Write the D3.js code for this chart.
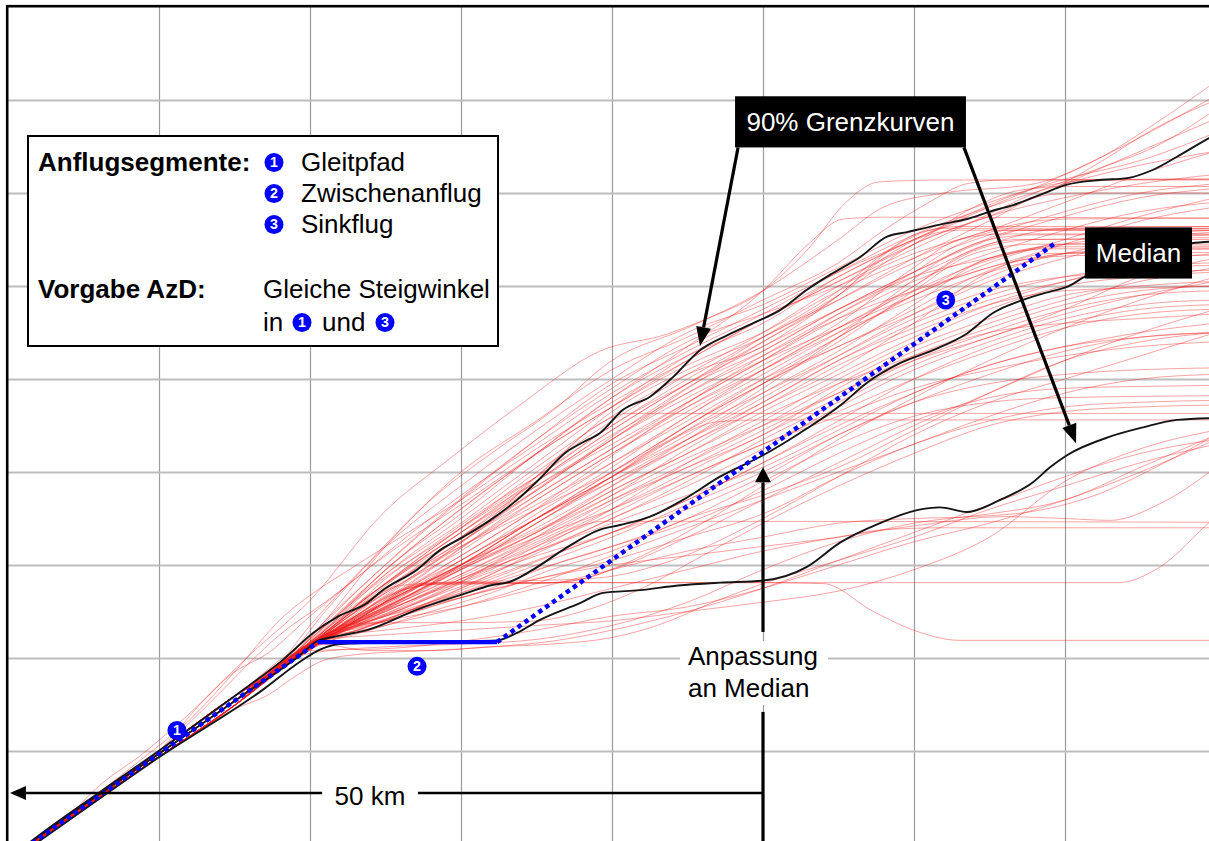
<!DOCTYPE html>
<html><head><meta charset="utf-8">
<script src="https://cdn.jsdelivr.net/npm/d3@7"></script>
<style>
html,body{margin:0;padding:0;background:#fff;overflow:hidden;}
svg{display:block;font-family:"Liberation Sans",Arial,Helvetica,sans-serif;}
</style></head><body>
<svg id="chart" width="1209" height="841"></svg>
<script>
// ---------- data (distance in km, altitude in grid units) ----------
const xGridKm = [10,20,30,40,50,60,70];
const yGridAlt = [1,2,3,4,5,6,7,8];

const upperBound = [[0,-0.17],[1.46,0.02],[6.09,0.56],[10.07,1.01],[12.72,1.32],[15.76,1.68],[18.21,1.98],[20.2,2.27],[21.79,2.44],[23.77,2.59],[24.83,2.73],[27.09,2.95],[28.61,3.16],[30.13,3.3],[31.92,3.48],[33.71,3.7],[35.23,3.93],[37.02,4.22],[38.08,4.32],[39.21,4.42],[40.73,4.67],[42.52,4.81],[44.04,5.02],[45.83,5.31],[47.62,5.47],[49.34,5.6],[51.13,5.74],[52.91,5.96],[54.64,6.14],[56.42,6.31],[58.21,6.53],[59.54,6.58],[61.72,6.66],[63.51,6.72],[65.03,6.8],[66.56,6.87],[68.34,6.98],[70.13,7.09],[72.32,7.14],[74.11,7.16],[75.83,7.25],[77.42,7.39],[79.54,7.59],[80,7.63]];

const median = [[0,-0.17],[1.46,0.01],[10.07,0.98],[15.76,1.62],[19.34,2.03],[20.46,2.18],[21.99,2.24],[23.77,2.3],[27.09,2.52],[30.4,2.7],[31.92,2.78],[33.25,2.82],[34.77,2.95],[37.02,3.19],[39.21,3.38],[40.53,3.43],[42.52,3.52],[44.7,3.7],[47.15,3.95],[50,4.18],[52.45,4.42],[55.3,4.74],[56.89,4.96],[59.07,5.17],[61.26,5.31],[63.51,5.49],[65.23,5.71],[67.22,5.85],[69.01,5.94],[70.13,5.99],[71.32,6.1],[73.64,6.23],[76.29,6.37],[78.41,6.46],[80,6.48]];

const lowerBound = [[0,-0.2],[1.79,0.0],[10.07,0.94],[16.89,1.66],[19.34,1.96],[20.66,2.09],[21.99,2.15],[25.96,2.17],[32.38,2.19],[33.71,2.27],[35.23,2.41],[37.88,2.59],[39.4,2.7],[41.85,2.73],[44.37,2.78],[47.15,2.81],[49.93,2.83],[52.91,2.98],[55.1,3.24],[57.75,3.45],[60.2,3.59],[61.72,3.62],[63.51,3.57],[65.7,3.7],[67.88,3.89],[69.01,4.05],[70.13,4.18],[72.98,4.38],[75.17,4.48],[77.42,4.56],[80,4.58]];

const glidePath = [[1.6,0.01],[20.53,2.17]];
const intermediate = [[20.53,2.17],[32.38,2.17]];
const descent = [[32.38,2.17],[69.34,6.46]];
const segmentMarkers = [{n:"1",km:11.19,alt:1.22},{n:"2",km:27.09,alt:1.91},{n:"3",km:62.1,alt:5.85}];

const tracks = [
 [[0,-0.17],[8,0.74],[10,1.0],[12.7,1.5],[16,2.03],[20,2.62],[24.8,3.55],[29.3,4.15],[33.9,4.72],[39.2,5.3],[43.6,5.48],[46,5.63],[50,5.95],[53,6.4],[55.5,6.9],[57.7,7.12],[62,7.14],[80,7.14]],
 [[0,-0.17],[10,0.97],[15,1.54],[18.5,1.95],[21,2.4],[25,3.2],[30,4.0],[35,4.55],[40,5.1],[45,5.45],[50,5.85],[55,6.25],[58,6.6],[61,6.9],[63.5,7.1],[66,7.14],[80,7.15]],
 [[0,-0.18],[10,0.94],[15,1.49],[18,1.89],[21,2.4],[25,3.0],[30,3.7],[35,4.35],[40,4.95],[45,5.35],[50,5.75],[55,6.15],[60,6.5],[65,6.85],[70,7.2],[75,7.6],[80,8.05]],
 [[0,-0.16],[10,1.0],[15,1.59],[18.5,1.94],[21,2.3],[25,2.95],[30,3.55],[35,4.2],[40,4.8],[45,5.25],[50,5.6],[55,6.1],[60,6.5],[65,6.8],[68,6.95],[72,7.3],[76,7.7],[80,8.0]],
 [[0,-0.17],[10,0.97],[15,1.54],[19,2.0],[21,2.25],[25,2.85],[30,3.4],[35,4.0],[40,4.55],[45,5.05],[50,5.5],[55,6.0],[60,6.4],[64,6.7],[68,7.0],[72,7.25],[76,7.5],[80,7.9]],
 [[0,-0.18],[10,0.94],[15,1.49],[17,1.77],[21,2.3],[25,2.8],[30,3.35],[35,3.95],[40,4.65],[45,5.1],[50,5.45],[55,5.9],[60,6.45],[65,6.75],[70,7.1],[75,7.45],[80,7.8]],
 [[0,-0.17],[10,0.97],[15,1.54],[18,1.9],[21,2.5],[25,3.2],[30,3.85],[35,4.45],[40,5.0],[45,5.5],[50,5.8],[55,6.2],[60,6.6],[65,6.9],[70,7.15],[75,7.35],[80,7.65]],
 [[0,-0.16],[10,1.0],[15,1.59],[17.5,1.85],[20,2.35],[24,3.05],[28,3.7],[32,4.2],[36,4.65],[40,5.2],[45,5.55],[50,5.95],[55,6.5],[58,6.85],[62,7.0],[68,7.1],[72,7.35],[76,7.75],[80,8.2]],
 [[0,-0.17],[10,0.97],[15,1.54],[18,1.88],[21,2.3],[25,2.9],[30,3.5],[35,4.1],[40,4.7],[45,5.25],[50,5.65],[55,6.05],[60,6.45],[64,6.85],[67,7.03],[70,7.07],[80,7.07]],
 [[0,-0.18],[10,0.94],[15,1.49],[19,2.0],[22,2.4],[26,2.9],[30,3.35],[35,3.9],[40,4.45],[45,4.95],[50,5.4],[55,5.85],[60,6.3],[65,6.7],[68.5,6.97],[71,7.0],[80,7.0]],
 [[0,-0.17],[10,0.97],[15,1.54],[18,1.88],[20.5,2.25],[25,2.95],[30,3.6],[35,4.2],[40,4.8],[45,5.35],[50,5.95],[53,6.45],[55.3,6.72],[58,6.74],[80,6.73]],
 [[0,-0.16],[10,1.0],[15,1.59],[18,1.89],[20.5,2.3],[23,2.7],[27,3.3],[31,3.85],[35,4.35],[40,4.9],[45,5.4],[50,5.7],[55,6.0],[60,6.35],[65,6.6],[70,6.9],[75,7.2],[80,7.45]],
 [[0,-0.17],[10,0.97],[15,1.54],[18,1.88],[21,2.28],[25,2.75],[30,3.3],[35,3.85],[40,4.35],[45,4.9],[50,5.4],[55,5.9],[58,6.3],[61,6.55],[63,6.6],[80,6.6]],
 [[0,-0.18],[10,0.94],[15,1.49],[19,2.0],[22,2.35],[25,2.7],[30,3.15],[35,3.7],[40,4.2],[45,4.7],[50,5.15],[55,5.6],[60,6.2],[63,6.5],[66,6.56],[80,6.56]],
 [[0,-0.17],[10,0.97],[15,1.54],[20,2.1],[23,2.4],[27,2.8],[30,3.05],[35,3.55],[40,4.05],[45,4.6],[50,5.05],[55,5.5],[60,6.0],[64,6.4],[67,6.5],[80,6.5]],
 [[0,-0.16],[10,1.0],[15,1.59],[19.5,2.05],[22,2.32],[25,2.6],[30,3.0],[35,3.45],[40,3.95],[45,4.5],[50,4.95],[55,5.4],[60,5.95],[64,6.35],[68,6.45],[80,6.45]],
 [[0,-0.17],[10,0.97],[15,1.54],[20,2.12],[23,2.35],[26,2.6],[30,2.95],[35,3.35],[40,3.85],[45,4.35],[50,4.85],[55,5.3],[60,5.8],[65,6.3],[69,6.4],[80,6.4]],
 [[0,-0.18],[10,0.94],[15,1.49],[20.5,2.18],[24,2.4],[28,2.65],[32,3.0],[36,3.4],[40,3.75],[45,4.25],[50,4.7],[55,5.1],[60,5.6],[65,6.15],[69,6.35],[80,6.36]],
 [[0,-0.17],[10,0.97],[15,1.54],[17,1.77],[21,2.35],[25,2.9],[30,3.45],[35,4.05],[40,4.6],[45,5.05],[50,5.35],[55,5.9],[59,6.45],[62,6.62],[80,6.62]],
 [[0,-0.16],[10,1.0],[15,1.59],[19,2.0],[22,2.38],[26,2.8],[30,3.2],[35,3.65],[40,4.1],[45,4.55],[50,5.0],[55,5.35],[60,5.75],[64,6.1],[68,6.3],[72,6.33],[80,6.33]],
 [[0,-0.17],[10,0.97],[15,1.54],[20,2.1],[24,2.45],[28,2.8],[32,3.15],[36,3.55],[40,3.95],[45,4.4],[50,4.9],[55,5.45],[59,5.95],[62,6.3],[65,6.5],[68,6.55],[80,6.55]],
 [[0,-0.18],[10,0.94],[15,1.49],[18.5,1.95],[22,2.4],[26,2.85],[30,3.25],[34,3.7],[38,4.15],[42,4.6],[46,5.0],[50,5.3],[55,5.75],[60,6.15],[64,6.45],[67,6.6],[80,6.62]],
 [[0,-0.17],[10,0.97],[15,1.54],[20,2.12],[24,2.55],[28,3.0],[32,3.5],[36,4.1],[39,4.5],[41,4.63],[45,4.63],[80,4.63]],
 [[0,-0.16],[10,1.0],[15,1.59],[20.5,2.2],[25,2.6],[30,3.0],[35,3.5],[40,3.95],[44,4.35],[47,4.54],[50,4.56],[80,4.56]],
 [[0,-0.17],[10,0.97],[15,1.54],[20.5,2.2],[24,2.45],[28,2.7],[32,2.95],[35,3.2],[37.5,3.4],[39.5,3.47],[45,3.47],[80,3.46]],
 [[0,-0.18],[10,0.94],[15,1.49],[21,2.22],[25,2.4],[30,2.65],[35,2.85],[40,3.0],[45,3.1],[50,3.2],[55,3.3],[58,3.38],[62,3.4],[80,3.4]],
 [[0,-0.17],[10,0.97],[15,1.54],[20.5,2.2],[23,2.45],[25.5,2.7],[27.5,2.8],[30,2.81],[40,2.81],[50,2.81],[60,2.81],[73.5,2.81],[76.3,2.98],[79.5,3.45],[80,3.52]],
 [[0,-0.16],[10,1.0],[15,1.59],[20,2.12],[23,2.45],[26,2.72],[28,2.79],[33,2.8],[37,2.82],[40,2.95],[45,3.3],[50,3.7],[55,4.1],[60,4.5],[65,4.85],[70,5.2],[75,5.5],[80,5.75]],
 [[0,-0.17],[10,0.97],[15,1.54],[20.5,2.18],[23.5,2.5],[26.5,2.75],[29,2.8],[35,2.8],[38,2.85],[42,3.1],[46,3.45],[50,3.85],[55,4.35],[60,4.8],[65,5.2],[70,5.55],[75,5.85],[80,6.1]],
 [[0,-0.18],[10,0.94],[15,1.49],[19.5,2.05],[23,2.5],[26,2.78],[30,2.82],[34,2.83],[39,2.86],[44,3.05],[50,3.5],[55,3.95],[60,4.4],[65,4.75],[70,5.0],[75,5.25],[80,5.5]],
 [[0,-0.17],[10,0.97],[15,1.54],[20,2.1],[24,2.5],[27,2.78],[30,2.81],[40,2.81],[50,2.81],[54,2.8],[57.3,2.5],[60.5,2.27],[63,2.19],[70,2.19],[80,2.19]],
 [[0,-0.16],[10,1.0],[15,1.59],[20.5,2.15],[24,2.08],[28,2.08],[32,2.12],[36,2.15],[40,2.22],[43,2.35],[47,2.62],[50,2.8],[55,3.05],[60,3.3],[65,3.6],[70,3.85],[75,4.1],[80,4.3]],
 [[0,-0.17],[10,0.97],[15,1.54],[20,2.05],[25,2.12],[30,2.15],[35,2.2],[40,2.35],[45,2.6],[50,2.95],[55,3.25],[60,3.45],[65,3.55],[70,3.7],[75,4.05],[80,4.4]],
 [[0,-0.18],[10,0.94],[15,1.49],[21,2.22],[25,2.3],[30,2.4],[35,2.55],[40,2.75],[45,2.95],[50,3.15],[55,3.3],[60,3.42],[66,3.52],[70,3.5],[73,3.48],[76.3,3.66],[79.5,3.99],[80,4.05]],
 [[0,-0.17],[10,0.97],[15,1.54],[21,2.25],[25,2.4],[30,2.55],[35,2.75],[40,2.95],[45,3.15],[50,3.3],[55,3.45],[60,3.5],[64,3.52],[68,3.58],[72,3.75],[76,4.05],[80,4.4]],
 [[0,-0.16],[10,1.0],[15,1.59],[20,2.08],[25,2.1],[30,2.18],[35,2.3],[40,2.45],[45,2.55],[47,2.62],[50,2.75],[55,3.0],[60,3.25],[65,3.45],[70,3.7],[75,4.0],[80,4.35]],
 [[0,-0.17],[10,0.97],[15,1.54],[21,2.2],[25,2.25],[30,2.3],[35,2.35],[40,2.4],[45,2.5],[50,2.6],[55,2.72],[60,2.95],[65,3.3],[70,3.9],[75,4.25],[80,4.45]],
 [[0,-0.18],[10,0.94],[15,1.49],[20.5,2.2],[24,2.35],[28,2.55],[32,2.75],[36,3.0],[40,3.2],[45,3.45],[50,3.8],[55,4.2],[60,4.55],[65,4.8],[70,4.9],[75,4.92],[80,4.93]],
 [[0,-0.17],[10,0.97],[15,1.54],[20,2.15],[25,2.45],[30,2.7],[35,2.95],[40,3.2],[45,3.5],[50,3.9],[55,4.3],[60,4.6],[65,4.75],[70,4.8],[80,4.82]],
 [[0,-0.16],[10,1.0],[15,1.59],[19.5,2.05],[24,2.35],[28,2.6],[32,2.85],[36,3.1],[40,3.35],[45,3.6],[50,3.95],[55,4.4],[60,4.75],[65,4.95],[70,5.05],[75,5.1],[80,5.12]],
 [[0,-0.17],[10,0.97],[15,1.54],[21,2.25],[25,2.45],[30,2.65],[35,2.85],[40,3.05],[45,3.3],[50,3.55],[55,3.95],[60,4.3],[65,4.55],[70,4.7],[75,4.75],[80,4.77]],
 [[0,-0.18],[10,0.94],[15,1.49],[20,2.1],[24,2.3],[28,2.5],[32,2.7],[36,2.95],[40,3.15],[45,3.5],[50,3.75],[55,4.05],[60,4.45],[65,4.85],[70,5.2],[75,5.4],[80,5.5]],
 [[0,-0.17],[10,0.97],[15,1.54],[20.5,2.2],[25,2.5],[30,2.85],[35,3.15],[40,3.45],[45,3.75],[50,4.05],[55,4.45],[60,4.85],[65,5.15],[70,5.35],[75,5.45],[80,5.5]],
 [[0,-0.16],[10,1.0],[15,1.59],[21,2.25],[25,2.55],[30,2.95],[35,3.3],[40,3.6],[45,3.95],[50,4.3],[55,4.65],[60,5.0],[65,5.3],[70,5.55],[75,5.7],[80,5.75]],
 [[0,-0.17],[10,0.97],[15,1.54],[19,1.98],[22,2.3],[26,2.6],[30,2.9],[35,3.3],[40,3.7],[45,4.05],[50,4.4],[55,4.9],[60,5.3],[65,5.6],[70,5.85],[75,6.05],[80,6.2]],
 [[0,-0.18],[10,0.94],[15,1.49],[20,2.1],[23,2.35],[27,2.6],[31,2.9],[35,3.15],[40,3.5],[45,3.9],[50,4.35],[55,4.75],[60,5.15],[65,5.45],[70,5.7],[75,5.9],[80,6.05]],
 [[0,-0.17],[10,0.97],[15,1.54],[20.5,2.2],[24,2.4],[28,2.65],[32,2.9],[36,3.25],[40,3.6],[45,4.1],[50,4.55],[55,5.0],[60,5.4],[65,5.75],[70,6.0],[75,6.1],[80,6.15]],
 [[0,-0.16],[10,1.0],[15,1.59],[18,1.9],[21,2.25],[25,2.6],[30,3.0],[35,3.4],[40,3.85],[45,4.3],[50,4.7],[55,5.15],[60,5.5],[65,5.8],[70,5.95],[75,5.98],[80,6.0]],
 [[0,-0.17],[10,0.97],[15,1.54],[19.5,2.05],[23,2.4],[27,2.75],[31,3.05],[35,3.35],[40,3.8],[45,4.2],[50,4.6],[55,4.95],[60,5.25],[65,5.5],[70,5.6],[75,5.65],[80,5.7]],
 [[0,-0.18],[10,0.94],[15,1.49],[20,2.12],[25,2.55],[30,2.95],[35,3.35],[40,3.75],[45,4.15],[50,4.5],[55,4.85],[60,5.2],[65,5.45],[70,5.75],[75,6.1],[80,6.3]],
 [[0,-0.17],[10,0.97],[15,1.54],[21,2.28],[25,2.6],[30,3.05],[35,3.5],[40,3.9],[45,4.3],[50,4.75],[55,5.2],[60,5.55],[65,5.85],[70,6.05],[75,6.2],[80,6.25]],
 [[0,-0.16],[10,1.0],[15,1.59],[19,2.0],[22,2.4],[26,2.85],[30,3.2],[35,3.6],[40,4.0],[45,4.45],[50,4.85],[55,5.25],[60,5.65],[65,5.95],[70,6.1],[75,6.15],[80,6.17]],
 [[0,-0.17],[10,0.97],[15,1.54],[18,1.9],[21,2.3],[25,2.8],[30,3.35],[35,3.85],[40,4.3],[45,4.75],[50,5.2],[55,5.65],[60,6.05],[65,6.35],[70,6.6],[75,6.8],[80,6.9]],
 [[0,-0.18],[10,0.94],[15,1.49],[17,1.78],[20,2.2],[24,2.75],[28,3.2],[32,3.65],[36,4.05],[40,4.5],[45,4.95],[50,5.35],[55,5.75],[60,6.1],[65,6.3],[70,6.45],[75,6.55],[80,6.6]],
 [[0,-0.17],[10,0.97],[15,1.54],[19,2.0],[23,2.55],[27,3.05],[31,3.5],[35,3.9],[40,4.4],[45,4.85],[50,5.25],[55,5.65],[60,5.95],[65,6.2],[70,6.45],[75,6.7],[80,6.85]],
 [[0,-0.16],[10,1.0],[15,1.59],[18.5,1.94],[21,2.35],[24,2.8],[28,3.35],[32,3.85],[36,4.3],[40,4.7],[45,5.15],[50,5.5],[55,5.95],[60,6.3],[64,6.55],[70,6.72],[80,6.73]],
 [[0,-0.17],[10,0.97],[15,1.54],[20,2.15],[24,2.6],[28,3.05],[32,3.45],[36,3.85],[40,4.25],[45,4.7],[50,5.1],[55,5.5],[60,5.85],[65,6.15],[70,6.35],[75,6.5],[80,6.55]],
 [[0,-0.18],[10,0.94],[15,1.49],[18.5,1.95],[22,2.45],[26,2.9],[30,3.3],[35,3.8],[40,4.35],[45,4.8],[50,5.2],[55,5.55],[60,5.9],[65,6.25],[70,6.5],[75,6.75],[80,6.95]],
 [[0,-0.17],[10,0.97],[15,1.54],[20,2.1],[25,2.5],[30,2.85],[35,3.2],[40,3.55],[45,3.95],[50,4.3],[55,4.6],[60,4.9],[65,5.1],[70,5.25],[75,5.35],[80,5.4]],
 [[0,-0.16],[10,1.0],[15,1.59],[21,2.2],[25,2.45],[30,2.8],[35,3.1],[40,3.35],[45,3.7],[50,4.1],[55,4.5],[60,4.85],[65,5.15],[70,5.35],[75,5.5],[80,5.6]],
 [[0,-0.17],[4,0.3],[6,0.62],[9,0.98],[12,1.4],[15,1.85],[17.2,2.05],[20,2.45],[23,2.85],[26,3.25],[30,3.75],[35,4.3],[40,4.85],[45,5.3],[50,5.7],[55,6.15],[60,6.55],[65,6.85],[70,7.1],[75,7.3],[80,7.45]],
 [[0,-0.17],[6,0.55],[9,0.93],[12,1.33],[15,1.85],[18.2,2.44],[20.5,2.73],[22.6,2.95],[26,3.3],[30,3.7],[35,4.25],[40,4.75],[45,5.2],[50,5.65],[55,6.1],[60,6.5],[64,6.8],[67,7.0],[72,7.14],[80,7.15]],
 [[0,-0.18],[10,1.0],[12,1.3],[14,1.62],[16,1.95],[18,2.25],[21,2.6],[25,3.1],[30,3.65],[35,4.2],[40,4.7],[45,5.2],[50,5.65],[55,6.05],[60,6.45],[65,6.75],[70,6.95],[75,7.1],[80,7.2]],
 [[0,-0.17],[12,1.15],[15,1.45],[17.2,1.6],[19,1.8],[21,1.98],[24,2.05],[28,2.08],[32,2.12],[36,2.18],[40,2.3],[45,2.5],[50,2.75],[55,3.05],[60,3.35],[65,3.65],[70,3.95],[75,4.2],[80,4.35]],
 [[0,-0.16],[10,1.0],[15,1.59],[20,2.15],[22,2.35],[25,2.38],[30,2.38],[35,2.4],[38,2.5],[42,2.75],[46,3.1],[50,3.45],[55,3.85],[60,4.2],[65,4.5],[70,4.65],[75,4.7],[80,4.72]],
 [[0,-0.17],[10,0.97],[15,1.54],[19.5,2.06],[23,2.42],[27,2.85],[31,3.3],[35,3.75],[40,4.25],[45,4.75],[50,5.2],[55,5.7],[60,6.15],[63,6.45],[66,6.6],[80,6.6]],
 [[0,-0.17],[10,0.97],[15,1.54],[20,2.1],[24,2.5],[28,2.95],[32,3.4],[36,3.8],[40,4.2],[45,4.65],[50,5.1],[55,5.55],[60,6.0],[64,6.38],[68,6.5],[80,6.52]],
 [[0,-0.16],[10,1.0],[15,1.59],[20.5,2.18],[24,2.45],[28,2.8],[32,3.2],[36,3.6],[40,4.0],[45,4.5],[50,5.0],[55,5.45],[60,5.9],[65,6.3],[69,6.42],[80,6.43]],
 [[0,-0.18],[10,0.94],[15,1.49],[18.5,1.94],[22,2.38],[26,2.85],[30,3.3],[35,3.9],[40,4.45],[45,4.95],[50,5.45],[55,5.95],[58,6.35],[60.5,6.58],[63,6.64],[80,6.64]],
 [[0,-0.17],[10,0.97],[15,1.54],[19,2.0],[22,2.33],[26,2.72],[30,3.1],[35,3.6],[40,4.1],[45,4.6],[50,5.1],[55,5.55],[60,5.95],[65,6.28],[70,6.45],[80,6.47]],
 [[0,-0.17],[10,0.97],[15,1.54],[20,2.1],[23,2.4],[27,2.75],[31,3.1],[35,3.5],[40,3.95],[45,4.45],[50,4.95],[55,5.45],[60,5.9],[65,6.2],[70,6.35],[75,6.4],[80,6.42]],
 [[0,-0.16],[10,1.0],[15,1.59],[21,2.24],[25,2.55],[29,2.9],[33,3.3],[37,3.7],[41,4.1],[45,4.5],[50,4.95],[55,5.35],[60,5.7],[65,6.05],[70,6.3],[75,6.5],[80,6.58]],
 [[0,-0.17],[10,0.97],[15,1.54],[20.5,2.2],[24,2.5],[28,2.85],[32,3.15],[36,3.45],[40,3.8],[45,4.2],[50,4.65],[55,5.05],[60,5.45],[65,5.8],[70,6.05],[75,6.25],[80,6.35]],
 [[0,-0.18],[10,0.94],[15,1.49],[19,2.0],[22,2.3],[26,2.65],[30,3.05],[35,3.5],[40,3.95],[45,4.35],[50,4.75],[55,5.2],[60,5.6],[65,5.9],[70,6.1],[75,6.2],[80,6.22]],
 [[0,-0.17],[10,0.97],[15,1.54],[20,2.12],[24,2.45],[28,2.75],[32,3.05],[36,3.35],[40,3.7],[45,4.1],[50,4.5],[55,4.95],[60,5.35],[65,5.65],[70,5.9],[75,6.0],[80,6.05]],
 [[0,-0.16],[10,1.0],[15,1.59],[21,2.25],[25,2.5],[29,2.8],[33,3.1],[37,3.4],[41,3.75],[45,4.05],[50,4.45],[55,4.85],[60,5.25],[65,5.55],[70,5.8],[75,5.95],[80,6.0]],
 [[0,-0.17],[10,0.97],[15,1.54],[20.5,2.15],[24,2.35],[28,2.6],[32,2.9],[36,3.2],[40,3.5],[45,3.85],[50,4.25],[55,4.7],[60,5.1],[65,5.4],[70,5.65],[75,5.8],[80,5.85]],
 [[0,-0.18],[10,0.94],[15,1.49],[20,2.1],[25,2.4],[30,2.75],[35,3.05],[40,3.35],[45,3.7],[50,4.1],[55,4.55],[60,5.0],[65,5.35],[70,5.6],[75,5.75],[80,5.8]],
 [[0,-0.17],[10,0.97],[15,1.54],[19.5,2.05],[23,2.45],[27,2.9],[31,3.35],[35,3.8],[40,4.35],[45,4.85],[50,5.3],[55,5.75],[60,6.15],[65,6.5],[70,6.75],[75,6.95],[80,7.05]],
 [[0,-0.16],[10,1.0],[15,1.59],[18,1.88],[21,2.28],[25,2.8],[30,3.4],[35,3.95],[40,4.5],[45,5.0],[50,5.45],[55,5.85],[60,6.25],[65,6.55],[70,6.8],[75,7.0],[80,7.1]],
 [[0,-0.17],[10,0.97],[15,1.54],[20,2.12],[24,2.4],[28,2.7],[32,3.0],[36,3.3],[40,3.6],[45,4.0],[50,4.4],[55,4.8],[60,5.2],[65,5.5],[70,5.75],[75,5.9],[80,5.95]],
 [[0,-0.18],[10,0.94],[15,1.49],[21,2.22],[25,2.42],[30,2.7],[35,3.0],[40,3.3],[45,3.65],[50,4.0],[55,4.4],[60,4.75],[65,5.05],[70,5.3],[75,5.45],[80,5.5]],
 [[0,-0.17],[10,0.97],[15,1.54],[20.5,2.18],[25,2.35],[30,2.55],[35,2.8],[40,3.1],[45,3.4],[50,3.7],[55,4.0],[60,4.3],[65,4.6],[70,4.85],[75,5.0],[80,5.05]],
 [[0,-0.16],[10,1.0],[15,1.59],[19,1.98],[22,2.3],[26,2.7],[30,3.1],[34,3.5],[38,3.95],[42,4.4],[46,4.85],[50,5.25],[55,5.7],[60,6.1],[65,6.45],[70,6.62],[80,6.64]],
 [[0,-0.17],[10,0.97],[15,1.54],[20,2.1],[23,2.38],[27,2.7],[31,3.05],[35,3.45],[40,3.9],[45,4.35],[50,4.8],[55,5.25],[60,5.7],[65,6.1],[70,6.35],[80,6.4]]
];

// annotation anchors (data units)
const distanceArrow = {kmFrom:50, kmTo:0.13, alt:0.548, label:"50 km", gapFrom:20.8, gapTo:27.15};
const fitArrow = {km:50, altTip:4.05, altLow:2.28, altResume:1.42};
const fitLabel = {km:45.03, lines:["Anpassung","an Median"], alts:[1.925,1.58]};
const boundsBox = {km0:48.15, km1:63.44, alt0:7.49, alt1:8.04, label:"90% Grenzkurven"};
const boundsTips = [[45.83,5.355],[70.73,4.31]];
const medianBox = {km0:71.32, km1:78.41, alt0:6.08, alt1:6.63, label:"Median"};

// ---------- drawing ----------
const W = 1209, H = 841;
const svg = d3.select("#chart");
const x = d3.scaleLinear().domain([0,80]).range([8, 8+80*15.1]);
const y = d3.scaleLinear().domain([0,9]).range([844, 7]);

svg.append("rect").attr("width",W).attr("height",H).attr("fill","#fff");
svg.append("defs").append("clipPath").attr("id","plotclip")
  .append("rect").attr("x",8).attr("y",7).attr("width",W-8).attr("height",H-7);

const plot = svg.append("g").attr("clip-path","url(#plotclip)");

// grid via axes
const gx = plot.append("g").attr("transform",`translate(0,${H+20})`)
  .call(d3.axisTop(x).tickValues(xGridKm).tickSize(H+40).tickFormat(""));
gx.select(".domain").remove();
gx.selectAll("line").attr("stroke","#9c9c9c").attr("stroke-width",1.2);

const gy = plot.append("g")
  .call(d3.axisRight(y).tickValues(yGridAlt).tickSize(W+20).tickFormat(""));
gy.select(".domain").remove();
gy.selectAll("line").attr("stroke","#bdbdbd").attr("stroke-width",2);

const line = d3.line().x(d=>x(d[0])).y(d=>y(d[1])).curve(d3.curveMonotoneX);

plot.append("g").selectAll("path").data(tracks).join("path")
  .attr("d", line).attr("fill","none")
  .attr("stroke","#f01818").attr("stroke-opacity",0.4).attr("stroke-width",1);

plot.append("g").selectAll("path").data([upperBound, median, lowerBound]).join("path")
  .attr("d", line).attr("fill","none")
  .attr("stroke","#151515").attr("stroke-width",1.9);

const straight = d3.line().x(d=>x(d[0])).y(d=>y(d[1]));
plot.append("path").attr("d", straight(intermediate)).attr("fill","none")
  .attr("stroke","#0000ff").attr("stroke-width",4.2);
plot.append("path").attr("d", straight(glidePath)).attr("fill","none")
  .attr("stroke","#0000ff").attr("stroke-width",4.5).attr("stroke-dasharray","4.5,4");
plot.append("path").attr("d", straight(descent)).attr("fill","none")
  .attr("stroke","#0000ff").attr("stroke-width",4.5).attr("stroke-dasharray","4.5,4");

function badge(g, cx, cy, n, r){
  g.append("circle").attr("cx",cx).attr("cy",cy).attr("r",r).attr("fill","#0000ff");
  g.append("text").attr("x",cx).attr("y",cy+r*0.52).attr("text-anchor","middle")
   .attr("font-size",r*1.5).attr("font-weight","bold").attr("fill","#fff").text(n);
}
segmentMarkers.forEach(m => badge(plot, x(m.km), y(m.alt), m.n, 9.5));

// arrows
function arrow(g, x1,y1,x2,y2, len, hw, sw){
  const dx=x2-x1, dy=y2-y1, L=Math.hypot(dx,dy), ux=dx/L, uy=dy/L;
  const bx=x2-ux*len, by=y2-uy*len;
  g.append("line").attr("x1",x1).attr("y1",y1).attr("x2",bx).attr("y2",by)
    .attr("stroke","#000").attr("stroke-width",sw);
  g.append("path").attr("d",`M${x2},${y2}L${bx-uy*hw},${by+ux*hw}L${bx+uy*hw},${by-ux*hw}Z`).attr("fill","#000");
}
const ann = plot.append("g");
const FS = 26;

// 50 km
const ay = y(distanceArrow.alt);
arrow(ann, x(distanceArrow.gapFrom), ay, x(distanceArrow.kmTo), ay, 16, 7, 2.6);
ann.append("line").attr("x1",x(distanceArrow.gapTo)).attr("x2",x(distanceArrow.kmFrom))
  .attr("y1",ay).attr("y2",ay).attr("stroke","#000").attr("stroke-width",2.6);
ann.append("text").attr("x",(x(distanceArrow.gapFrom)+x(distanceArrow.gapTo))/2).attr("y",ay+11.5)
  .attr("text-anchor","middle").attr("font-size",FS).text(distanceArrow.label);

// fit arrow + label
const fx = x(fitArrow.km);
arrow(ann, fx, y(fitArrow.altLow), fx, y(fitArrow.altTip), 15, 8, 3.2);
ann.append("line").attr("x1",fx).attr("x2",fx).attr("y1",y(fitArrow.altResume)).attr("y2",H+5)
  .attr("stroke","#000").attr("stroke-width",3.2);
ann.append("rect").attr("x",x(fitLabel.km)-8).attr("y",y(fitLabel.alts[0])-24)
  .attr("width",148).attr("height",64).attr("fill","#fff");
fitLabel.lines.forEach((t,i)=>{
  ann.append("text").attr("x",x(fitLabel.km)).attr("y",y(fitLabel.alts[i]))
    .attr("font-size",FS).text(t);
});

// bounds box and arrows
const bx0=x(boundsBox.km0), bx1=x(boundsBox.km1), by0=y(boundsBox.alt1), by1=y(boundsBox.alt0);
arrow(ann, bx0+3, by1, x(boundsTips[0][0]), y(boundsTips[0][1]), 19, 7.5, 3.2);
arrow(ann, bx1-2, by1, x(boundsTips[1][0]), y(boundsTips[1][1]), 19, 7.5, 3.2);
ann.append("rect").attr("x",bx0).attr("y",by0).attr("width",bx1-bx0).attr("height",by1-by0).attr("fill","#000");
ann.append("text").attr("x",(bx0+bx1)/2).attr("y",by0+35).attr("text-anchor","middle")
  .attr("font-size",FS).attr("fill","#fff").text(boundsBox.label);

// median box
const mx0=x(medianBox.km0), mx1=x(medianBox.km1), my0=y(medianBox.alt1), my1=y(medianBox.alt0);
ann.append("rect").attr("x",mx0).attr("y",my0).attr("width",mx1-mx0).attr("height",my1-my0).attr("fill","#000");
ann.append("text").attr("x",(mx0+mx1)/2).attr("y",my0+35).attr("text-anchor","middle")
  .attr("font-size",FS).attr("fill","#fff").text(medianBox.label);

// frame
svg.append("rect").attr("x",7.2).attr("y",6.2).attr("width",1300).attr("height",1000)
  .attr("fill","none").attr("stroke","#000").attr("stroke-width",2.6);

// legend
const lg = svg.append("g");
lg.append("rect").attr("x",28).attr("y",136).attr("width",470).attr("height",210)
  .attr("fill","#fff").attr("stroke","#000").attr("stroke-width",2);
lg.append("text").attr("x",38).attr("y",171).attr("font-size",FS).attr("font-weight","bold").text("Anflugsegmente:");
const legendRows = [["1","Gleitpfad",171],["2","Zwischenanflug",202],["3","Sinkflug",233]];
legendRows.forEach(r=>{
  badge(lg, 274, r[2]-8.5, r[0], 9.5);
  lg.append("text").attr("x",301).attr("y",r[2]).attr("font-size",FS).text(r[1]);
});
lg.append("text").attr("x",38).attr("y",298).attr("font-size",FS).attr("font-weight","bold").text("Vorgabe AzD:");
lg.append("text").attr("x",263).attr("y",298).attr("font-size",FS).text("Gleiche Steigwinkel");
lg.append("text").attr("x",263).attr("y",331).attr("font-size",FS).text("in");
badge(lg, 302, 322.5, "1", 9.5);
lg.append("text").attr("x",322).attr("y",331).attr("font-size",FS).text("und");
badge(lg, 385, 322.5, "3", 9.5);
</script>
</body></html>
